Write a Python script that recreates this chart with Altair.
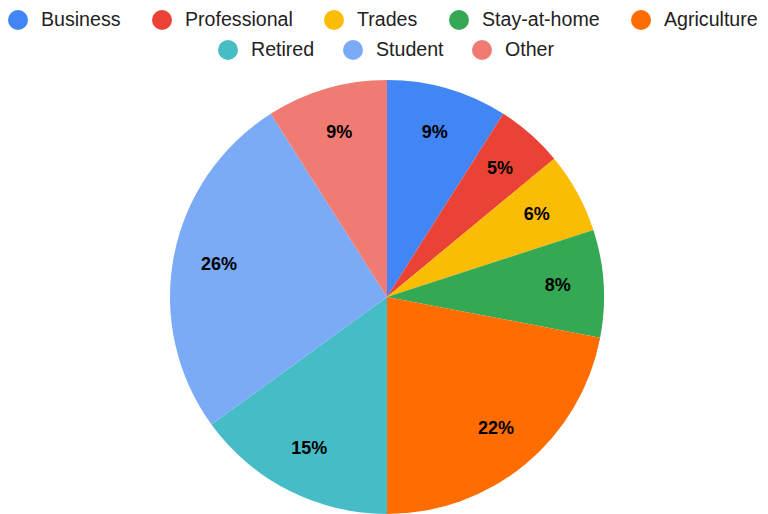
import altair as alt
import pandas as pd

categories = ["Business", "Professional", "Trades", "Stay-at-home", "Agriculture",
              "Retired", "Student", "Other"]
shares = [9, 5, 6, 8, 22, 15, 26, 9]
colors = ["#4285F4", "#EA4335", "#FBBC04", "#34A853", "#FF6D01",
          "#46BDC6", "#7BAAF7", "#F07B72"]

row1 = categories[:5]
row2 = categories[5:]

df = pd.DataFrame({"category": categories, "share": shares, "order": list(range(len(categories)))})
df["label"] = df["share"].astype(str) + "%"

FONT = "Liberation Sans, Arial, sans-serif"
CX, CY, R = 379, 289, 217

base = alt.Chart(df).encode(
    theta=alt.Theta("share:Q", stack=True),
    order=alt.Order("order:Q"),
)

pie = base.mark_arc(outerRadius=R, x=CX, y=CY).encode(
    color=alt.Color("category:N", scale=alt.Scale(domain=categories, range=colors), legend=None)
)

labels = base.mark_text(radius=171, x=CX, y=CY, fontSize=18, fontWeight="bold",
                        font=FONT, color="#000000").encode(text="label:N")


def legend_layer(domain, rng, lx, ly, pad):
    return alt.Chart(df).transform_filter("datum.share < 0").mark_point(filled=True).encode(
        color=alt.Color(
            "category:N",
            scale=alt.Scale(domain=domain, range=rng),
            legend=alt.Legend(
                title=None, orient="none", legendX=lx, legendY=ly, direction="horizontal",
                symbolType="circle", symbolSize=400, symbolStrokeWidth=0, symbolOpacity=1,
                labelFont=FONT, labelFontSize=19.6, labelColor="#222222", labelOffset=13,
                columnPadding=pad, padding=0, labelLimit=300,
            ),
        )
    )


leg1 = legend_layer(row1, colors[:5], 0, 2, 31)
leg2 = legend_layer(row2, colors[5:], 210, 32, 28)

chart = alt.layer(pie, labels, leg1, leg2).resolve_scale(color="independent").properties(
    width=752, height=506, autosize=alt.AutoSizeParams(type="none"), padding=0
).configure_view(strokeWidth=0)

chart.save("out.html", embed_options={"renderer": "svg", "actions": False})
